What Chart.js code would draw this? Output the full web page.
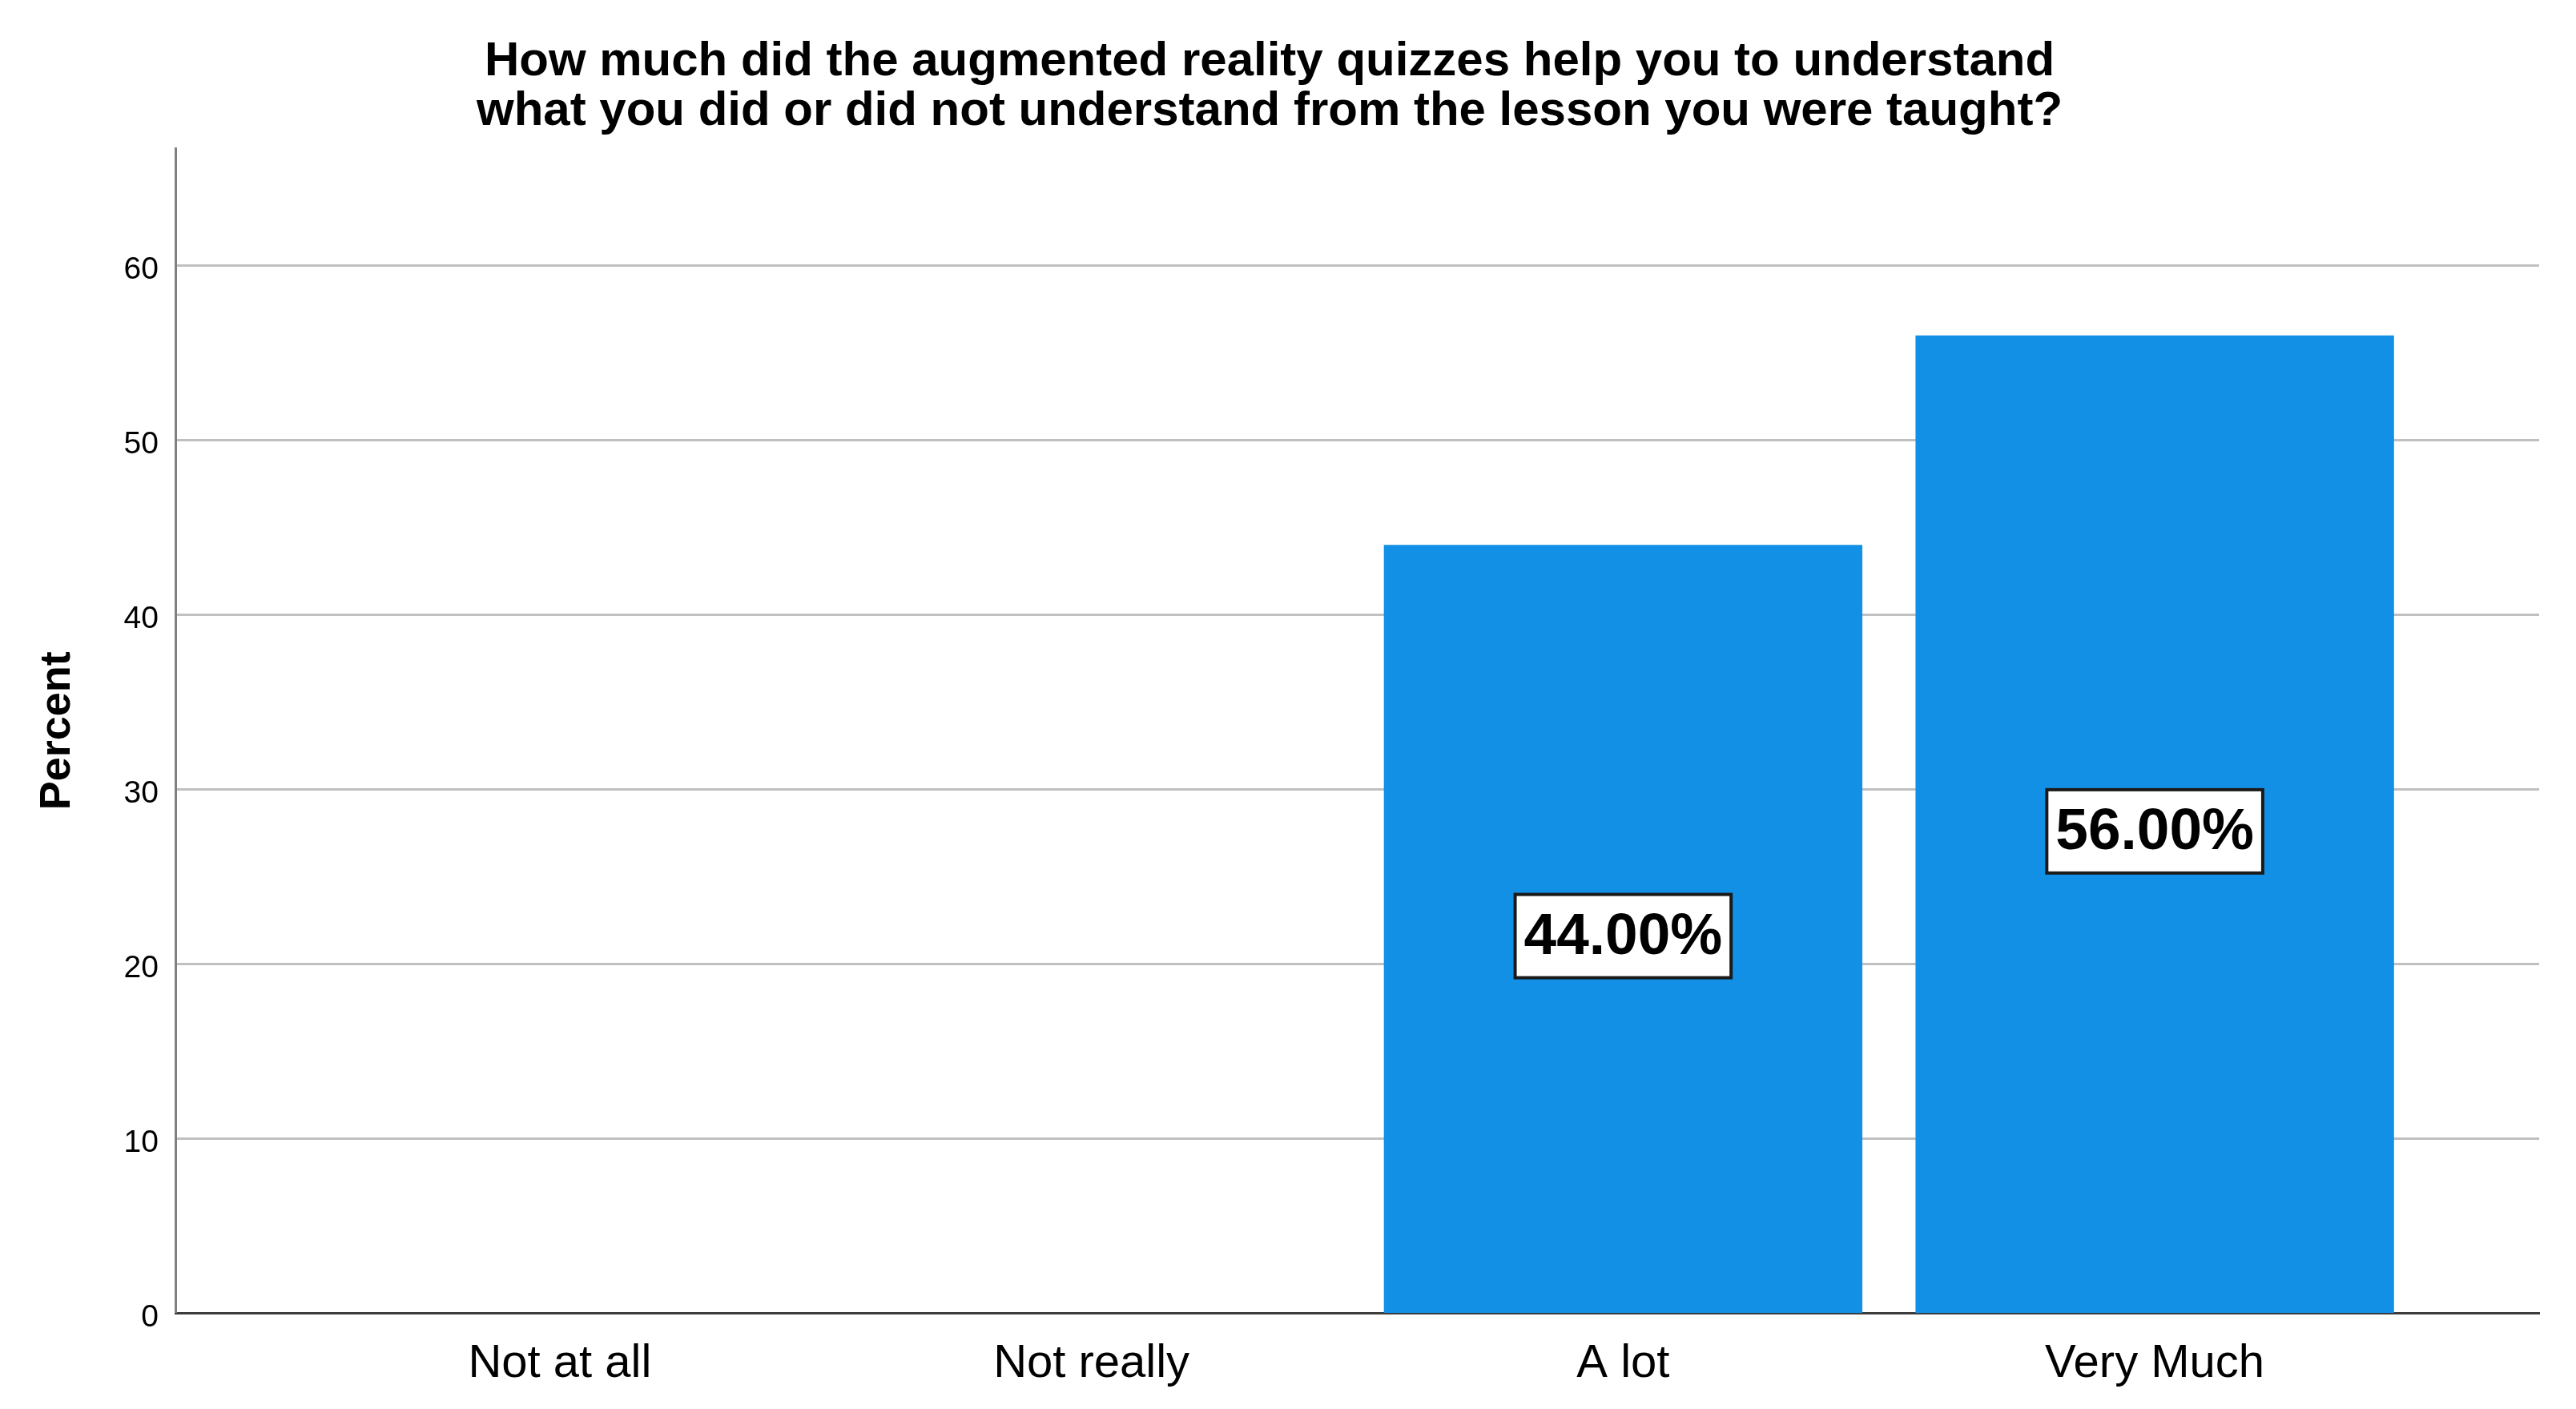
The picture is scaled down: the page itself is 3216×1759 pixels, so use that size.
<!DOCTYPE html>
<html>
<head>
<title>AR quizzes</title>
<script src="https://cdn.jsdelivr.net/npm/chart.js@4.4.1/dist/chart.umd.min.js"></script>
<style>
  html, body { margin: 0; padding: 0; background: #fff; }
  canvas { display: block; }
</style>
</head>
<body>
<canvas id="myChart" width="3216" height="1759"></canvas>
<script>
// data
var categories = ["Not at all", "Not really", "A lot", "Very Much"];
var percents = [0, 0, 44, 56];
var yTicks = [0, 10, 20, 30, 40, 50, 60];
var titleLines = ["How much did the augmented reality quizzes help you to understand",
                  "what you did or did not understand from the lesson you were taught?"];

var points = [];
for (var i = 0; i < categories.length; i++) {
  points.push({x: i, y: percents[i]});
}

// white boxed percent labels in the middle of each bar
var barLabels = {
  id: 'barLabels',
  afterDatasetsDraw: function(chart) {
    var ctx = chart.ctx;
    var meta = chart.getDatasetMeta(0);
    ctx.save();
    ctx.font = 'bold 73px "Liberation Sans", Arial, sans-serif';
    ctx.textAlign = 'center';
    ctx.textBaseline = 'middle';
    meta.data.forEach(function(bar, i) {
      var v = percents[i];
      if (!v) return;
      var txt = v.toFixed(2) + '%';
      var cx = bar.x;
      var cy = (bar.y + bar.base) / 2 + 9;
      var w = ctx.measureText(txt).width + 22;
      var h = 104;
      ctx.fillStyle = '#fff';
      ctx.fillRect(cx - w / 2, cy - h / 2, w, h);
      ctx.lineWidth = 4;
      ctx.strokeStyle = '#1a1a1a';
      ctx.strokeRect(cx - w / 2, cy - h / 2, w, h);
      ctx.fillStyle = '#000';
      ctx.fillText(txt, cx, cy + 2);
    });
    ctx.restore();
  }
};

var ctx = document.getElementById('myChart').getContext('2d');
var chart = new Chart(ctx, {
  type: 'bar',
  data: {
    datasets: [{
      data: points,
      backgroundColor: '#1290e5',
      borderWidth: 0,
      barPercentage: 0.9,
      categoryPercentage: 1.0
    }]
  },
  options: {
    responsive: false,
    animation: false,
    devicePixelRatio: 1,
    layout: { padding: { left: 0, right: 46, top: 0, bottom: 0 } },
    plugins: {
      legend: { display: false },
      tooltip: { enabled: false },
      title: {
        display: true,
        text: titleLines,
        color: '#000',
        font: { family: '"Liberation Sans", Arial, sans-serif', size: 60, weight: 'bold', lineHeight: 1.03 },
        padding: { top: 47, bottom: 15 }
      }
    },
    scales: {
      x: {
        type: 'linear',
        min: -0.723,
        max: 3.723,
        offset: false,
        grid: { display: false, drawTicks: false, offset: false },
        border: { display: true, color: '#3c3c3c', width: 3 },
        afterBuildTicks: function(scale) {
          scale.ticks = categories.map(function(c, i) { return {value: i}; });
        },
        afterFit: function(scale) { scale.height = 120; },
        ticks: {
          autoSkip: false,
          maxRotation: 0,
          padding: 29,
          color: '#000',
          font: { family: '"Liberation Sans", Arial, sans-serif', size: 58 },
          callback: function(value) { return categories[value]; }
        }
      },
      y: {
        min: 0,
        max: 66.7,
        grid: {
          drawTicks: false,
          color: '#c0c0c0',
          lineWidth: function(c) { return c.tick && c.tick.value === 0 ? 0 : 3; }
        },
        border: { display: true, color: '#808080', width: 3 },
        afterBuildTicks: function(scale) {
          scale.ticks = yTicks.map(function(v) { return {value: v}; });
        },
        afterFit: function(scale) { scale.width = 219; },
        ticks: {
          padding: 21,
          labelOffset: 6,
          color: '#000',
          font: { family: '"Liberation Sans", Arial, sans-serif', size: 39 }
        },
        title: {
          display: true,
          text: 'Percent',
          color: '#000',
          padding: { top: 40, bottom: 0 },
          font: { family: '"Liberation Sans", Arial, sans-serif', size: 54, weight: 'bold' }
        }
      }
    }
  },
  plugins: [barLabels]
});
</script>
</body>
</html>
